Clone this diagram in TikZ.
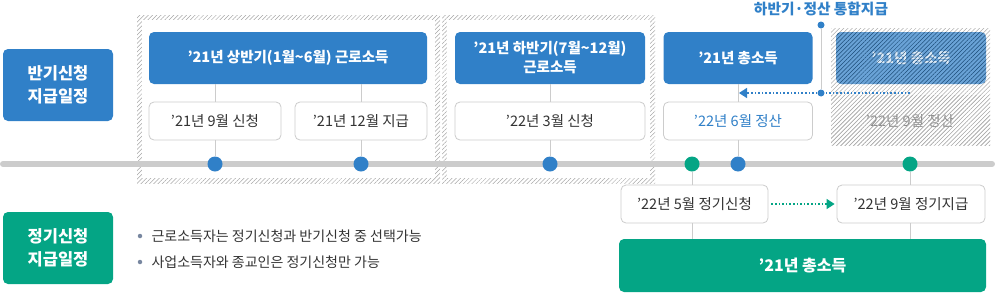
\documentclass[tikz,border=0pt]{standalone}
\usepackage{fontspec}
\setmainfont{Noto Sans CJK KR}
\usetikzlibrary{patterns.meta,arrows.meta}
\definecolor{cblue}{RGB}{48,128,200}
\definecolor{cgreen}{RGB}{4,165,133}
\definecolor{cline}{RGB}{204,204,204}
\definecolor{ctext}{RGB}{51,51,51}
\definecolor{cbul}{RGB}{120,135,160}
\begin{document}
\begin{tikzpicture}[x=1pt,y=-1pt,
  bluebox/.style={rounded corners=5pt,fill=cblue,text=white,inner sep=0pt,align=center,font=\bfseries\fontsize{14.5}{19}\selectfont},
  greenbox/.style={bluebox,fill=cgreen},
  whitebox/.style={rounded corners=5pt,draw=cline,line width=0.8pt,fill=white,text=ctext,inner sep=0pt,font=\fontsize{14.5}{17}\selectfont},
  conn/.style={draw=cline,line width=0.8pt},
  tdot/.style={circle,fill=#1,minimum size=15pt,inner sep=0pt},
  sdot/.style={circle,fill=cblue,minimum size=7pt,inner sep=0pt},
  hatch/.style={pattern={Lines[angle=45,distance=3pt,line width=0.5pt]},pattern color=#1},
]
\useasboundingbox (0,0) rectangle (995,295);

% hatched frames
\fill[hatch=gray!70] (137,15) rectangle (440,183);
\fill[white] (142,20) rectangle (435,178);
\fill[hatch=gray!70] (442,15) rectangle (655,183);
\fill[white] (447,20) rectangle (650,178);

% left labels
\node[bluebox,minimum width=110pt,minimum height=72pt,font=\bfseries\fontsize{16.5}{23}\selectfont] (lb1) at (58,85) {반기신청\\지급일정};
\node[greenbox,minimum width=110pt,minimum height=72pt,font=\bfseries\fontsize{16.5}{23}\selectfont] (lb2) at (58,248) {정기신청\\지급일정};

% timeline
\draw[cline,line width=6pt,line cap=round] (3,164) coordinate (tl0) -- (992,164) coordinate (tl1);

% top boxes
\node[bluebox,minimum width=278pt,minimum height=52pt] (b1) at (288,58) {’21년 상반기(1월\textasciitilde 6월) 근로소득};
\node[whitebox,minimum width=132pt,minimum height=38pt] (w1) at (215,121) {’21년 9월 신청};
\node[whitebox,minimum width=132pt,minimum height=38pt] (w2) at (361,121) {’21년 12월 지급};
\node[bluebox,minimum width=190pt,minimum height=52pt] (b2) at (550,58) {’21년 하반기(7월\textasciitilde 12월)\\근로소득};
\node[whitebox,minimum width=190pt,minimum height=38pt] (w3) at (550,121) {’22년 3월 신청};
\node[bluebox,minimum width=149pt,minimum height=52pt] (b3) at (738,58) {’21년 총소득};
\node[whitebox,minimum width=149pt,minimum height=38pt,text=cblue] (w4) at (738,121) {’22년 6월 정산};

% dots
\node[tdot=cblue] (d1) at (215,164) {};
\node[tdot=cblue] (d2) at (361,164) {};
\node[tdot=cblue] (d3) at (550,164) {};
\node[tdot=cgreen] (g1) at (692,164) {};
\node[tdot=cblue] (d4) at (738,164) {};
\node[tdot=cgreen] (g2) at (910,164) {};

% connectors top
\draw[conn] (b1.south -| w1) -- (w1.north);
\draw[conn] (w1.south) -- (d1.north);
\draw[conn] (b1.south -| w2) -- (w2.north);
\draw[conn] (w2.south) -- (d2.north);
\draw[conn] (b2.south) -- (w3.north);
\draw[conn] (w3.south) -- (d3.north);
\draw[conn] (b3.south) -- (w4.north);
\draw[conn] (w4.south) -- (d4.north);

% hatched region for 22 Sep settlement
\fill[hatch=gray!65] (831,28) rectangle (990,145);
\fill[cblue!72,rounded corners=5pt] (836,32) rectangle (986,84);
\node[text=white!85!cblue,font=\bfseries\fontsize{14.5}{19}\selectfont] (b4) at (911,58) {’21년 총소득};
\node[text=gray!90,font=\fontsize{14.5}{17}\selectfont] (w5) at (910,121) {’22년 9월 정산};
\fill[hatch=gray!65] (831,95) rectangle (990,145);
\fill[hatch=cblue!60!black,rounded corners=5pt] (836,32) rectangle (986,84);

% integrated payment label
\node[text=cblue,font=\bfseries\fontsize{14.7}{17}\selectfont] (lab) at (821,9) {하반기·정산 통합지급};
\node[sdot] (s1) at (821,25) {};
\node[sdot] (s2) at (821,93) {};
\draw[conn] (s1) -- (s2);
\coordinate (arrEnd) at (739,93);
\coordinate (arrStart) at (910,93);
\draw[cblue,dotted,line width=1.6pt] (arrStart) -- (s2);
\draw[cblue,dotted,line width=1.6pt,-{Triangle[length=8pt,width=10pt]}] (s2) -- (arrEnd);

% bottom boxes
\node[whitebox,minimum width=147pt,minimum height=38pt] (gw1) at (694.5,204) {’22년 5월 정기신청};
\node[whitebox,minimum width=148pt,minimum height=38pt] (gw2) at (911,204) {’22년 9월 정기지급};
\node[greenbox,minimum width=367pt,minimum height=53pt,font=\bfseries\fontsize{16}{19}\selectfont] (gb) at (802.5,265.5) {’21년 총소득};
\draw[conn] (g1.south) -- (g1 |- gw1.north);
\draw[conn] (g1 |- gw1.south) -- (g1 |- gb.north);
\draw[conn] (g2.south) -- (g2 |- gw2.north);
\draw[conn] (g2 |- gw2.south) -- (g2 |- gb.north);
\draw[cgreen,dotted,line width=1.6pt,-{Triangle[length=8pt,width=10pt]}] ([xshift=3pt]gw1.east) -- ([xshift=-2pt]gw2.west);

% bullets
\node[circle,fill=cbul,minimum size=4.5pt,inner sep=0pt] (bu1) at (140,236) {};
\node[anchor=west,text=ctext,font=\fontsize{14}{17}\selectfont] (t1) at (148,236) {근로소득자는 정기신청과 반기신청 중 선택가능};
\node[circle,fill=cbul,minimum size=4.5pt,inner sep=0pt] (bu2) at (140,262) {};
\node[anchor=west,text=ctext,font=\fontsize{14}{17}\selectfont] (t2) at (148,262) {사업소득자와 종교인은 정기신청만 가능};
\end{tikzpicture}
\end{document}
